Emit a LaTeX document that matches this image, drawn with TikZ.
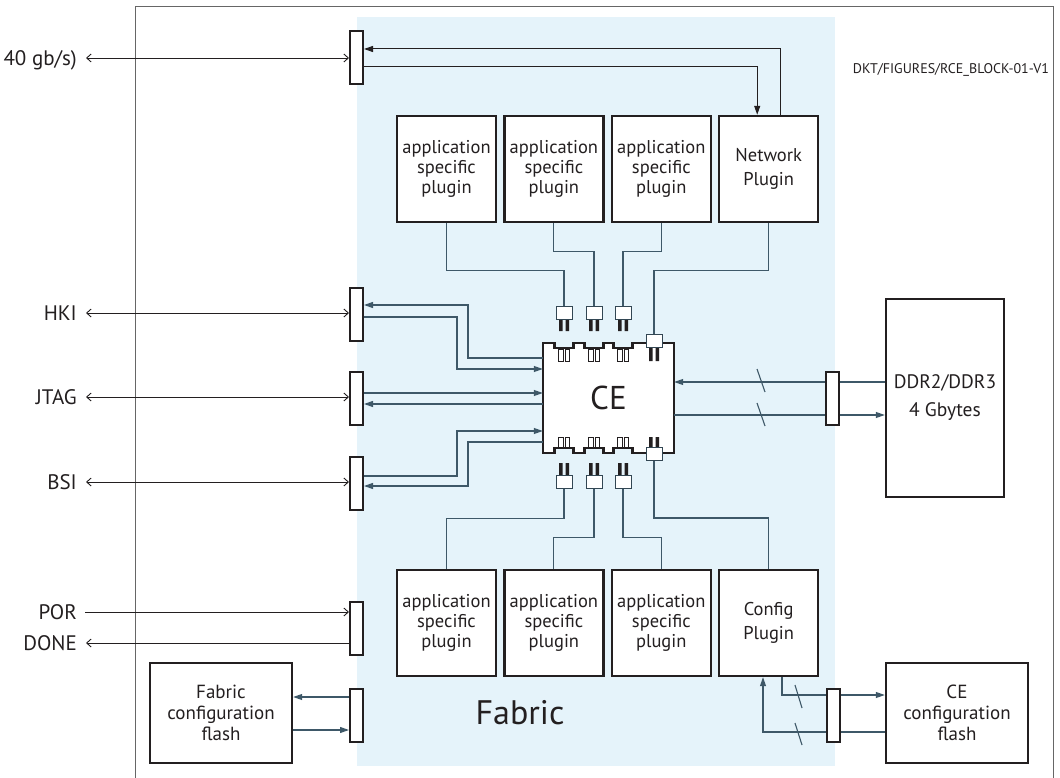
\documentclass[tikz,border=0pt]{standalone}
\usepackage{fontspec}
\setmainfont{PT Sans}
\usetikzlibrary{arrows.meta,positioning}
\definecolor{fabricbg}{RGB}{229,243,250}
\definecolor{wirecol}{RGB}{62,88,104}
\definecolor{ink}{RGB}{35,31,32}
\tikzset{
  box/.style={draw=ink, line width=2.4pt, fill=white, align=center, text=ink, inner sep=0pt,
    font=\fontsize{18.5}{20}\selectfont},
  plugin/.style={box, minimum width=99pt, minimum height=106pt},
  flashbox/.style={box, minimum width=142pt, minimum height=100pt, font=\fontsize{19}{21}\selectfont},
  port/.style={draw=ink, line width=2pt, fill=white, minimum width=13pt, minimum height=53pt, inner sep=0pt},
  plug/.style={draw=wirecol!80!black, line width=1pt, fill=white, minimum width=16pt, minimum height=13pt, inner sep=0pt},
  sig/.style={anchor=east, text=ink, inner sep=0pt, text height=14.5pt, text depth=0pt,
    font=\fontsize{21}{24}\selectfont},
  link/.style={draw=wirecol, line width=1.1pt},
  ext/.style={draw=ink, line width=0.9pt},
  barb/.tip={Straight Barb[length=4.5pt,width=8pt]},
  >={Triangle[length=9pt,width=6pt]},
}
\begin{document}
\begin{tikzpicture}[x=1pt,y=-1pt]
  \useasboundingbox (0,0) rectangle (1060,778);
  %fabric area and frame
  \fill[fabricbg] (357,17) rectangle (835,766);
  \draw[black!60, line width=0.8pt] (135,778) -- (135,6) -- (1053,6) -- (1053,778);
  \node[text=ink, inner sep=0pt, font=\fontsize{14}{16}\selectfont] (tag) at (951,70) {DKT/FIGURES/RCE\_BLOCK-01-V1};
  \node[text=ink, inner sep=0pt, font=\fontsize{34}{36}\selectfont] (fabric) at (520,713) {Fabric};
  %
  %plugins
  \node[plugin] (pa1) at (446.5,169) {application\\specific\\plugin};
  \node[plugin, right=6pt of pa1] (pa2) {application\\specific\\plugin};
  \node[plugin, right=6pt of pa2] (pa3) {application\\specific\\plugin};
  \node[plugin, right=6pt of pa3, font=\fontsize{18.5}{24}\selectfont] (net) {Network\\Plugin};
  \node[plugin] (pb1) at (446.5,623) {application\\specific\\plugin};
  \node[plugin, right=6pt of pb1] (pb2) {application\\specific\\plugin};
  \node[plugin, right=6pt of pb2] (pb3) {application\\specific\\plugin};
  \node[plugin, right=6pt of pb3, font=\fontsize{18.5}{24}\selectfont] (cfg) {Config\\Plugin};
  %
  %outside parts
  \node[box, minimum width=118pt, minimum height=198pt, font=\fontsize{19.5}{28}\selectfont] (ddr) at (945,398) {DDR2/DDR3\\4 Gbytes};
  \node[flashbox] (fabflash) at (221,713) {Fabric\\configuration\\flash};
  \node[flashbox] (ceflash) at (957,713) {CE\\configuration\\flash};
  %
  %ports
  \node[port] (pnet) at (356.5,57.5) {};
  \node[port] (phki) at (356.5,314) {};
  \node[port] (pjtag) at (356.5,398.5) {};
  \node[port] (pbsi) at (356.5,483.5) {};
  \node[port] (ppor) at (356.5,628.5) {};
  \node[port] (pfab) at (356.5,715) {};
  \node[port] (pddr) at (832.5,398) {};
  \node[port] (pcfg) at (833,715.5) {};
  %
  %signal names
  \node[sig] (lnet) at (77,58) {40 gb/s)};
  \node[sig] (lhki) at (77,313) {HKI};
  \node[sig] (ljtag) at (77,397) {JTAG};
  \node[sig] (lbsi) at (77,482) {BSI};
  \node[sig] (lpor) at (77,612) {POR};
  \node[sig] (ldone) at (77,643) {DONE};
  \foreach \s/\p in {lnet/pnet, lhki/phki, ljtag/pjtag, lbsi/pbsi} {
    \draw[ext, barb-barb] ([xshift=9pt]\s.east) -- (\p.west |- \s.east);
  }
  \draw[ext, -barb] ([xshift=8pt]lpor.east) -- (ppor.west |- lpor.east);
  \draw[ext, -barb] (ppor.west |- ldone.east) -- ([xshift=9pt]ldone.east);
  %
  %CE chip
  \draw[ink, line width=2.4pt, fill=white] (543,343) -- (554.5,343) -- (554.5,348) -- (573.5,348) -- (573.5,343)
    -- (584.5,343) -- (584.5,348) -- (603.5,348) -- (603.5,343) -- (613.5,343) -- (613.5,348) -- (632.5,348)
    -- (632.5,343) -- (674,343) -- (674,453) -- (632.5,453) -- (632.5,448) -- (613.5,448) -- (613.5,453)
    -- (603.5,453) -- (603.5,448) -- (584.5,448) -- (584.5,453) -- (573.5,453) -- (573.5,448) -- (554.5,448)
    -- (554.5,453) -- (543,453) -- cycle;
  \node[minimum width=131pt, minimum height=110pt, inner sep=0pt, text=ink, font=\fontsize{33}{35}\selectfont] (ce) at (608.5,398) {CE};
  \foreach \c in {564,594,623} {
    \draw[ink, line width=0.8pt, fill=white] (\c-5.5,349) rectangle (\c-1,361) (\c+1,349) rectangle (\c+5.5,361);
    \draw[ink, line width=0.8pt, fill=white] (\c-5.5,437) rectangle (\c-1,447) (\c+1,437) rectangle (\c+5.5,447);
    \fill[ink] (\c-5,319) rectangle (\c-1.5,331) (\c+1.5,319) rectangle (\c+5,331);
    \fill[ink] (\c-5,463) rectangle (\c-1.5,475) (\c+1.5,463) rectangle (\c+5,475);
  }
  \fill[ink] (649,347) rectangle (652.5,361) (655.5,347) rectangle (659,361);
  \fill[ink] (649,437) rectangle (652.5,448) (655.5,437) rectangle (659,448);
  %
  %plug connectors
  \node[plug] (ct1) at (564,312.5) {};
  \node[plug] (ct2) at (594,312.5) {};
  \node[plug] (ct3) at (623,312.5) {};
  \node[plug] (ct4) at (654,341) {};
  \node[plug] (cb1) at (564,481.5) {};
  \node[plug] (cb2) at (594,481.5) {};
  \node[plug] (cb3) at (623,481.5) {};
  \node[plug] (cb4) at (654,454) {};
  %
  %plugin wires
  \draw[link] (pa1.south) -- ++(0,47) -| (ct1.north);
  \draw[link] (pa2.south) -- ++(0,28) -| (ct2.north);
  \draw[link] (pa3.south) -- ++(0,28) -| (ct3.north);
  \draw[link] (net.south) -- ++(0,47) -| (ct4.north);
  \draw[link] (cb1.south) -- ++(0,30) -| (pb1.north);
  \draw[link] (cb2.south) -- ++(0,49) -| (pb2.north);
  \draw[link] (cb3.south) -- ++(0,49) -| (pb3.north);
  \draw[link] (cb4.south) -- ++(0,57) -| (cfg.north);
  %
  %network port
  \draw[ink, line width=1pt, ->] ([xshift=11.5pt]net.north) |- ([yshift=8.5pt]pnet.east);
  \draw[ink, line width=1pt, ->] ([yshift=-9.5pt]pnet.east) -| ([xshift=-11.5pt]net.north);
  %
  %HKI, JTAG, BSI
  \draw[link, ->] (ce.west |- 0,358) -| (468,305) -- (phki.east |- 0,305);
  \draw[link, ->] (phki.east |- 0,317) -| (457,369) -- (ce.west |- 0,369);
  \draw[link, ->] (pjtag.east |- 0,393) -- (ce.west |- 0,393);
  \draw[link, ->] (ce.west |- 0,404) -- (pjtag.east |- 0,404);
  \draw[link, ->] (pbsi.east |- 0,476) -| (457,431) -- (ce.west |- 0,431);
  \draw[link, ->] (ce.west |- 0,442) -| (468,486) -- (pbsi.east |- 0,486);
  %
  %DDR
  \draw[link, ->] (pddr.west |- 0,382) -- (ce.east |- 0,382);
  \draw[link] (pddr.east |- 0,382) -- (ddr.west |- 0,382);
  \draw[link] (ce.east |- 0,415) -- (pddr.west |- 0,415);
  \draw[link, ->] (pddr.east |- 0,415) -- (ddr.west |- 0,415);
  \draw[link] (757,369) -- (765,392);
  \draw[link] (757,403) -- (765,426);
  %
  %CE configuration flash
  \draw[link] (cfg.south -| 782,0) |- (pcfg.west |- 0,695);
  \draw[link, ->] (pcfg.east |- 0,695) -- (ceflash.west |- 0,695);
  \draw[link] (ceflash.west |- 0,732) -- (pcfg.east |- 0,732);
  \draw[link, ->] (pcfg.west |- 0,732) -| (cfg.south -| 763,0);
  \draw[link] (795,685) -- (802,708);
  \draw[link] (795,723) -- (802,745);
  %
  %fabric configuration flash
  \draw[link, ->] (pfab.west |- 0,697) -- (fabflash.east |- 0,697);
  \draw[link, ->] (fabflash.east |- 0,730) -- (pfab.west |- 0,730);
\end{tikzpicture}
\end{document}
